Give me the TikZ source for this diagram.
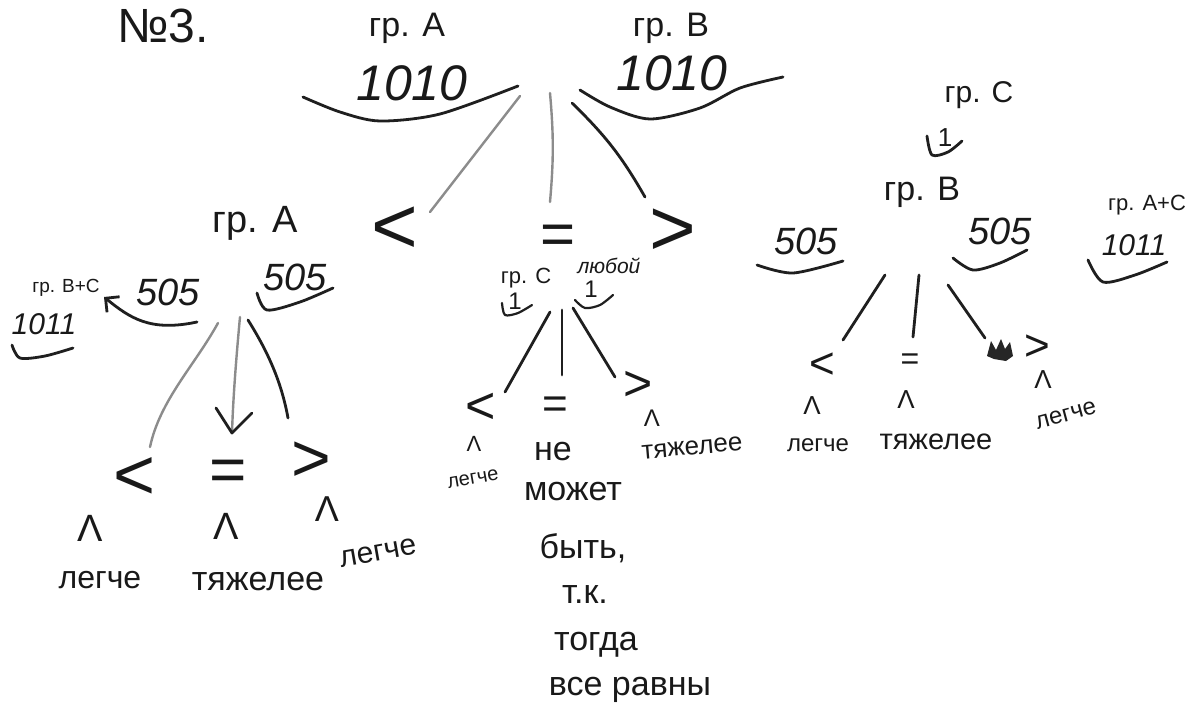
\documentclass[tikz,border=0pt]{standalone}
\usepackage{fontspec}
\setmainfont{Liberation Sans}
\usetikzlibrary{arrows.meta}
\newcommand\setfs[1]{\fontsize{#1}{#1}\selectfont}
\begin{document}
\begin{tikzpicture}[x=0.5pt,y=-0.5pt,
  ink/.style={draw=black!88, line width=1.4pt, line cap=round, line join=round},
  pencil/.style={draw=black!45, line width=1.2pt, line cap=round},
  lbl/.style={inner sep=0pt, text=black!90},
  sym/.style={lbl},
  num/.style={lbl, font=\itshape}]
\useasboundingbox (0,0) rectangle (1204,719);
\fill[white] (0,0) rectangle (1204,719);

% ---- heading and the first weighing ----
\node[lbl] (no) at (163,26) {\setfs{24}№3.};
\node[lbl] (gA) at (407,28) {\setfs{17}гр. А};
\node[num] (wA) at (412,83) {\setfs{25}1010};
\node[lbl] (gB) at (671,28) {\setfs{17}гр. В};
\node[num] (wB) at (672,73) {\setfs{25}1010};
% scale pans
\draw[ink] plot[smooth] coordinates {(303,97) (340,112) (380,121) (440,114) (518,86)};
\draw[ink] plot[smooth] coordinates {(580,90) (610,107) (650,119) (700,108) (740,88) (783,77)};
% outcomes of the first weighing
\node[sym] (lt) at (395,230) {\setfs{40}<};
\node[sym] (eq) at (558,240) {\setfs{30}=};
\node[sym] (gt) at (673,232) {\setfs{40}>};
\coordinate (p1) at (520,96);  \coordinate (c1) at (430,212);
\coordinate (p2) at (550,93);  \coordinate (c2) at (550,202);
\coordinate (p3) at (572,103); \coordinate (c3) at (645,197);
\draw[pencil] (p1) -- (c1);
\draw[pencil] (p2) to[bend left=5] (c2);
\draw[ink] (p3) to[bend left=8] (c3);

% ---- branch "=" ----
\node[lbl] (mC) at (526,278) {\setfs{11}гр. С};
\node[lbl] (mC1) at (515,301) {\setfs{12}1};
\draw[ink, line width=1.1pt] plot[smooth] coordinates {(502,303) (505,315) (518,313) (532,305)};
\node[lbl, font=\itshape] (any) at (609,266) {\setfs{10.5}любой};
\node[lbl] (any1) at (591,289) {\setfs{12}1};
\draw[ink, line width=1.1pt] plot[smooth] coordinates {(575,300) (585,308) (600,305) (613,295)};
\coordinate (m0a) at (550,312); \coordinate (m1) at (505,392);
\coordinate (m0b) at (562,310); \coordinate (m2) at (562,375);
\coordinate (m0c) at (573,308); \coordinate (m3) at (615,377);
\draw[ink] (m0a) -- (m1);
\draw[ink] (m0b) -- (m2);
\draw[ink] (m0c) -- (m3);
\node[sym] (ml) at (481,408) {\setfs{26}<};
\node[sym] (me) at (555,408) {\setfs{22}=};
\node[sym] (mg) at (638,386) {\setfs{25}>};
\node[lbl] (mlc) at (474,444) {\setfs{11}Λ};
\node[lbl, rotate=10] (ml2) at (473,479) {\setfs{10}легче};
\node[lbl] (mgc) at (652,418) {\setfs{12}Λ};
\node[lbl, rotate=5] (mg2) at (692,448) {\setfs{13}тяжелее};
\node[lbl] (n1) at (553,452) {\setfs{17}не};
\node[lbl] (n2) at (573,492) {\setfs{17}может};
\node[lbl] (n3) at (583,548) {\setfs{17}быть,};
\node[lbl] (n4) at (585,595) {\setfs{17}т.к.};
\node[lbl] (n5) at (596,645) {\setfs{17}тогда};
\node[lbl] (n6) at (630,690) {\setfs{17}все равны};

% ---- branch "<" ----
\node[lbl] (lA) at (255,223) {\setfs{19}гр. А};
\node[num] (lw1) at (168,292) {\setfs{19}505};
\node[num] (lw2) at (295,277) {\setfs{19}505};
\draw[ink] plot[smooth] coordinates {(257,293) (267,310) (300,302) (333,288)};
\node[lbl] (lBC) at (66,288) {\setfs{9.5}гр. В+С};
\node[num] (lBCw) at (44,324) {\setfs{15}1011};
\draw[ink] plot[smooth] coordinates {(12,345) (20,358) (45,356) (73,348)};
\coordinate (la0) at (197,322); \coordinate (la1) at (104,297);
\draw[ink, -{Straight Barb[length=5pt]}] (la0) .. controls (150,332) and (130,318) .. (la1);
\coordinate (lp) at (218,323);
\coordinate (lq) at (240,317);
\coordinate (lr) at (248,320);
\coordinate (l1) at (150,447);
\coordinate (l2) at (232,433);
\coordinate (l3) at (288,418);
\draw[pencil] (lp) .. controls (195,365) and (160,400) .. (l1);
\draw[pencil] (lq) .. controls (236,360) and (233,400) .. (l2);
\draw[ink] (216,408) -- (l2) -- (252,413);
\draw[ink] (lr) .. controls (270,355) and (282,385) .. (l3);
\node[sym] (ll) at (135,478) {\setfs{36}<};
\node[sym] (le) at (228,476) {\setfs{32}=};
\node[sym] (lg) at (311,462) {\setfs{34}>};
\node[lbl] (llc) at (90,528) {\setfs{19}Λ};
\node[lbl] (ll2) at (100,580) {\setfs{16}легче};
\node[lbl] (lec) at (226,526) {\setfs{19}Λ};
\node[lbl] (le2) at (258,582) {\setfs{17}тяжелее};
\node[lbl] (lgc) at (327,509) {\setfs{18}Λ};
\node[lbl, rotate=10] (lg2) at (378,553) {\setfs{15}легче};

% ---- branch ">" ----
\node[lbl] (rC) at (979,95) {\setfs{15}гр. С};
\node[lbl] (rC1) at (945,138) {\setfs{13}1};
\draw[ink] plot[smooth] coordinates {(927,136) (932,155) (948,152) (962,141)};
\node[lbl] (rB) at (922,192) {\setfs{17}гр. В};
\node[num] (rw1) at (806,241) {\setfs{19}505};
\draw[ink] plot[smooth] coordinates {(757,265) (793,273) (843,261)};
\node[num] (rw2) at (1000,231) {\setfs{19}505};
\draw[ink] plot[smooth] coordinates {(953,258) (973,270) (1000,263) (1027,250)};
\node[lbl] (rAC) at (1147,205) {\setfs{11}гр. А+С};
\node[num] (rACw) at (1134,245) {\setfs{15}1011};
\draw[ink] plot[smooth] coordinates {(1088,260) (1103,282) (1135,275) (1167,262)};
\coordinate (r0a) at (885,275); \coordinate (r1) at (843,340);
\coordinate (r0b) at (919,275); \coordinate (r2) at (913,337);
\coordinate (r0c) at (948,285); \coordinate (r3) at (985,338);
\draw[ink] (r0a) -- (r1);
\draw[ink] (r0b) -- (r2);
\draw[ink] (r0c) -- (r3);
\node[sym] (rl) at (822,366) {\setfs{22}<};
\node[sym] (re) at (910,362) {\setfs{16}=};
\node[sym] (rg) at (1037,348) {\setfs{22}>};
% crossed-out mark
\fill[black!85] (987,356) -- (991,341) -- (996,350) -- (1001,339) -- (1005,349) -- (1010,342) -- (1013,356) -- (1006,361) -- (994,359) -- cycle;
\node[lbl] (rlc) at (812,406) {\setfs{13}Λ};
\node[lbl] (rl2) at (818,445) {\setfs{12}легче};
\node[lbl] (rec) at (906,400) {\setfs{13}Λ};
\node[lbl] (re2) at (936,442) {\setfs{14.5}тяжелее};
\node[lbl] (rgc) at (1043,380) {\setfs{13}Λ};
\node[lbl, rotate=15] (rg2) at (1066,415) {\setfs{12}легче};
\end{tikzpicture}
\end{document}
